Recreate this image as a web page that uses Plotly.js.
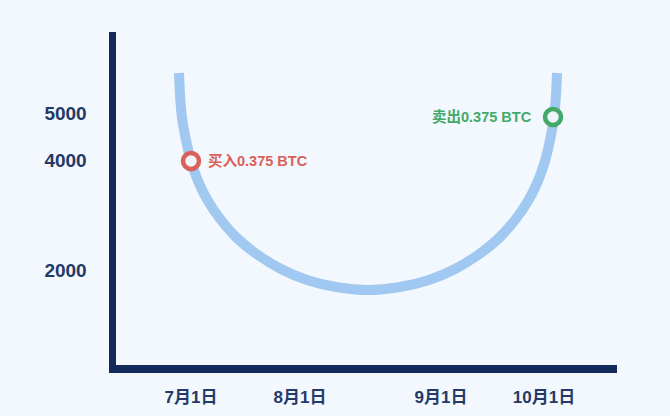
<!DOCTYPE html>
<html>
<head>
<meta charset="utf-8">
<script src="https://cdn.plot.ly/plotly-3.0.1.min.js"></script>
<style>
  html, body { margin: 0; padding: 0; background: #f2f8fd; }
  #chart { width: 670px; height: 416px; }
</style>
</head>
<body>
<div id="chart"></div>
<script>
// Curve (schematic price path)
const curveX = [63, 64, 66, 70, 75, 82, 92, 105, 122, 142, 165, 191, 220, 252, 284, 313, 339, 362, 382, 399, 412, 422, 429, 434, 438, 440, 441];
const curveY = [292, 270, 247, 225, 204, 184, 164, 145, 126, 110, 96, 85, 78, 75, 78, 85, 96, 110, 126, 145, 164, 184, 204, 225, 247, 270, 292];

// Buy / sell points
const buyX = [75];
const buyY = [204];
const buyLabel = '买入0.375 BTC';
const sellX = [437];
const sellY = [248];
const sellLabel = '卖出0.375 BTC';

// Axis ticks
const xTickVals = [75, 184, 325, 428];
const xTickText = ['7月1日', '8月1日', '9月1日', '10月1日'];
const yTickVals = [95, 205, 252];
const yTickText = ['2000', '4000', '5000'];

const BG = '#f2f8fd';
const NAVY = '#14295c';
const LABEL = '#233a68';
const RED = '#d9605b';
const GREEN = '#43a96b';
const FONT = 'Liberation Sans, Noto Sans CJK SC, sans-serif';

const traces = [
  {
    x: curveX, y: curveY, type: 'scatter', mode: 'lines',
    line: { color: '#a0c8f0', width: 10, shape: 'spline', smoothing: 0.9 },
    hoverinfo: 'skip', cliponaxis: false
  },
  {
    x: buyX, y: buyY, type: 'scatter', mode: 'markers',
    marker: { symbol: 'circle', size: 16, color: '#eef4fa', line: { color: RED, width: 4.5 } },
    cliponaxis: false
  },
  {
    x: sellX, y: sellY, type: 'scatter', mode: 'markers',
    marker: { symbol: 'circle', size: 16, color: '#eef4fa', line: { color: GREEN, width: 4.5 } },
    cliponaxis: false
  }
];

const layout = {
  width: 670, height: 416,
  margin: { l: 116, r: 53, t: 32, b: 51, pad: 0 },
  paper_bgcolor: BG, plot_bgcolor: BG,
  showlegend: false,
  font: { family: FONT },
  xaxis: {
    range: [0, 501], showgrid: false, zeroline: false,
    showline: true, linecolor: NAVY, linewidth: 7.5,
    ticks: '', tickvals: xTickVals, ticktext: xTickText,
    tickfont: { size: 17, color: LABEL, family: FONT, weight: 'bold' },
    ticklabelstandoff: 10, fixedrange: true
  },
  yaxis: {
    range: [0, 333], showgrid: false, zeroline: false,
    showline: true, linecolor: NAVY, linewidth: 7.5,
    ticks: '', tickvals: yTickVals, ticktext: yTickText,
    tickfont: { size: 19, color: LABEL, family: FONT, weight: 'bold' },
    ticklabelstandoff: 18, fixedrange: true
  },
  annotations: [
    { x: buyX[0], y: buyY[0], xref: 'x', yref: 'y', text: buyLabel, showarrow: false,
      xanchor: 'left', yanchor: 'middle', xshift: 15,
      font: { size: 14.5, color: RED, family: FONT, weight: 'bold' } },
    { x: sellX[0], y: sellY[0], xref: 'x', yref: 'y', text: sellLabel, showarrow: false,
      xanchor: 'right', yanchor: 'middle', xshift: -19,
      font: { size: 14.5, color: GREEN, family: FONT, weight: 'bold' } }
  ]
};

Plotly.newPlot('chart', traces, layout, { displayModeBar: false, staticPlot: true });
</script>
</body>
</html>
